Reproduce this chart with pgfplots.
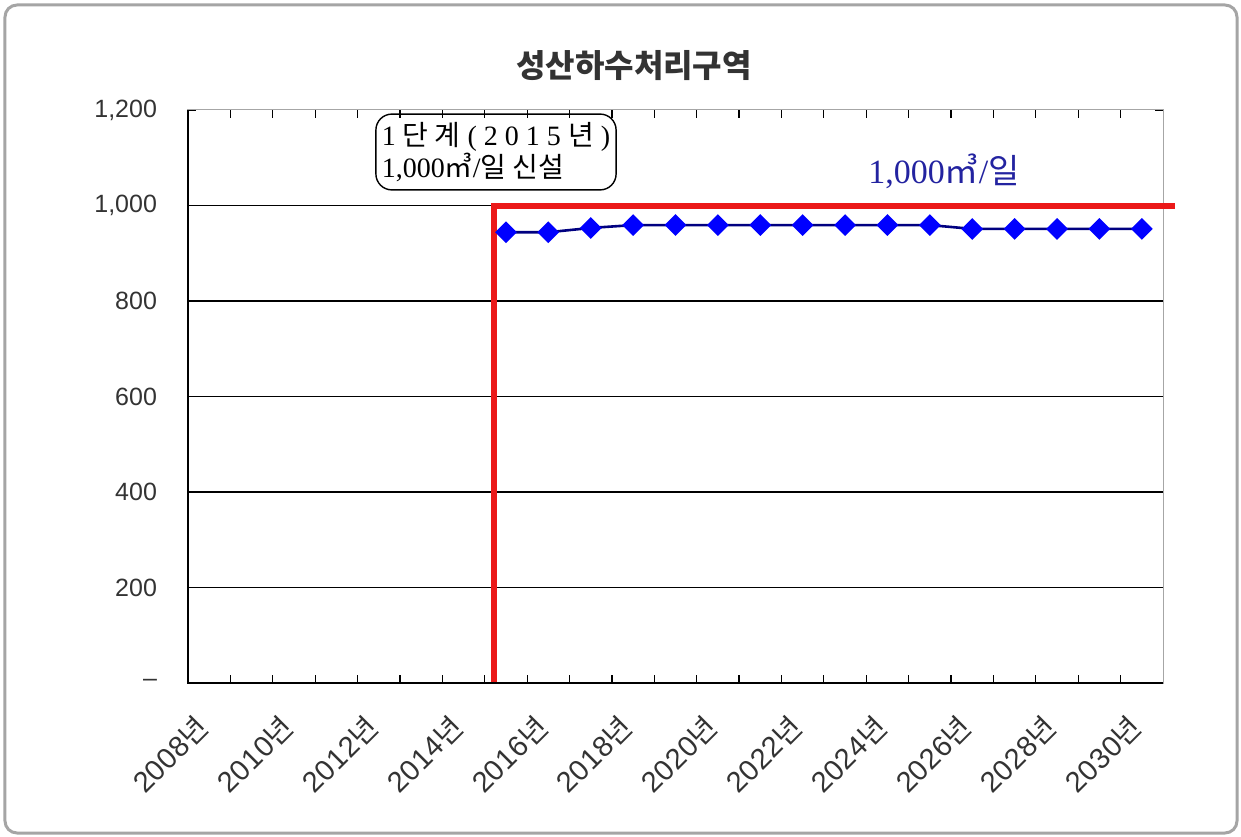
\documentclass[border=0pt]{standalone}
\usepackage{fontspec}
\setmainfont{Liberation Sans}
\newfontfamily\kr{Noto Sans CJK KR}
\newfontfamily\rmser{Liberation Serif}
\usepackage{pgfplots}
\pgfplotsset{compat=1.18}

\definecolor{navy}{RGB}{0,0,128}
\definecolor{mkblue}{RGB}{0,0,255}
\definecolor{capred}{RGB}{235,25,25}
\definecolor{lblblue}{RGB}{35,35,160}
\definecolor{framegray}{RGB}{165,165,165}

\newcommand\nyn{{\kr 년}}

\begin{document}
\begin{tikzpicture}
\path[use as bounding box] (-94pt,-76.5pt) rectangle (526.5pt,341.5pt);
\begin{axis}[
  scale only axis, width=487.5pt, height=286.5pt,
  xmin=-0.5, xmax=22.5, ymin=0, ymax=1200,
  clip=false,
  axis line style={draw=gray!70, line width=0.5pt},
  ytick={0,200,...,1200},
  yticklabels={--,200,400,600,800,{1,000},{1,200}},
  extra y ticks={200,400,600,800,1000},
  extra y tick labels={},
  extra y tick style={grid=major},
  grid style={black, line width=0.6pt},
  xtick={0.5,1.5,...,21.5}, xticklabels={},
  extra x ticks={0,2,...,22},
  extra x tick labels={2008\nyn,2010\nyn,2012\nyn,2014\nyn,2016\nyn,2018\nyn,2020\nyn,2022\nyn,2024\nyn,2026\nyn,2028\nyn,2030\nyn},
  extra x tick style={major tick length=0pt},
  major tick length=4pt,
  tick style={black, line width=0.6pt},
  tick label style={font=\fontsize{12.5}{14}\selectfont, text=black!80},
  yticklabel style={xshift=-12pt},
  xticklabel style={font=\fontsize{14.5}{16}\selectfont\addfontfeature{LetterSpace=2},
    xshift=-3pt, yshift=-19pt, rotate=45, anchor=east, inner sep=0pt},
]
% 처리량 (2015~2030)
\addplot[navy, line width=1.3pt, mark=square*, mark size=3.2pt,
  mark options={rotate=45, fill=mkblue, draw=mkblue}] coordinates {
  (7,944) (8,944) (9,953) (10,959) (11,959) (12,959) (13,959) (14,959)
  (15,959) (16,959) (17,959) (18,951) (19,951) (20,951) (21,951) (22,951)
};
% 시설용량
\addplot[capred, line width=3pt, line join=miter] coordinates {
  (6.72,0) (6.72,1000) (22.78,1000)
};
\draw[black, line width=0.9pt] (rel axis cs:0,1) -- (rel axis cs:0,0) -- (rel axis cs:1,0);
\end{axis}

\draw[framegray, line width=1.5pt, rounded corners=6pt] (-91.5pt,-75pt) rectangle (524.5pt,339pt);
\node[font=\kr\bfseries\fontsize{16}{18}\selectfont, text=black!80] at (223pt,308.5pt) {성산하수처리구역};
\node[draw, rounded corners=8pt, line width=0.7pt, align=left, inner xsep=3pt, inner ysep=4pt,
  font=\rmser\fontsize{14}{15}\selectfont] at (154pt,265.5pt)
  {1 {\kr 단 계} ( 2 0 1 5 {\kr 년} )\\1,000{\kr ㎥}/{\kr 일 신설}};
\node[anchor=west, text=lblblue, font=\rmser\fontsize{17}{19}\selectfont, inner sep=0pt] at (340pt,256pt)
  {1,000{\kr ㎥}/{\kr 일}};
\end{tikzpicture}
\end{document}
